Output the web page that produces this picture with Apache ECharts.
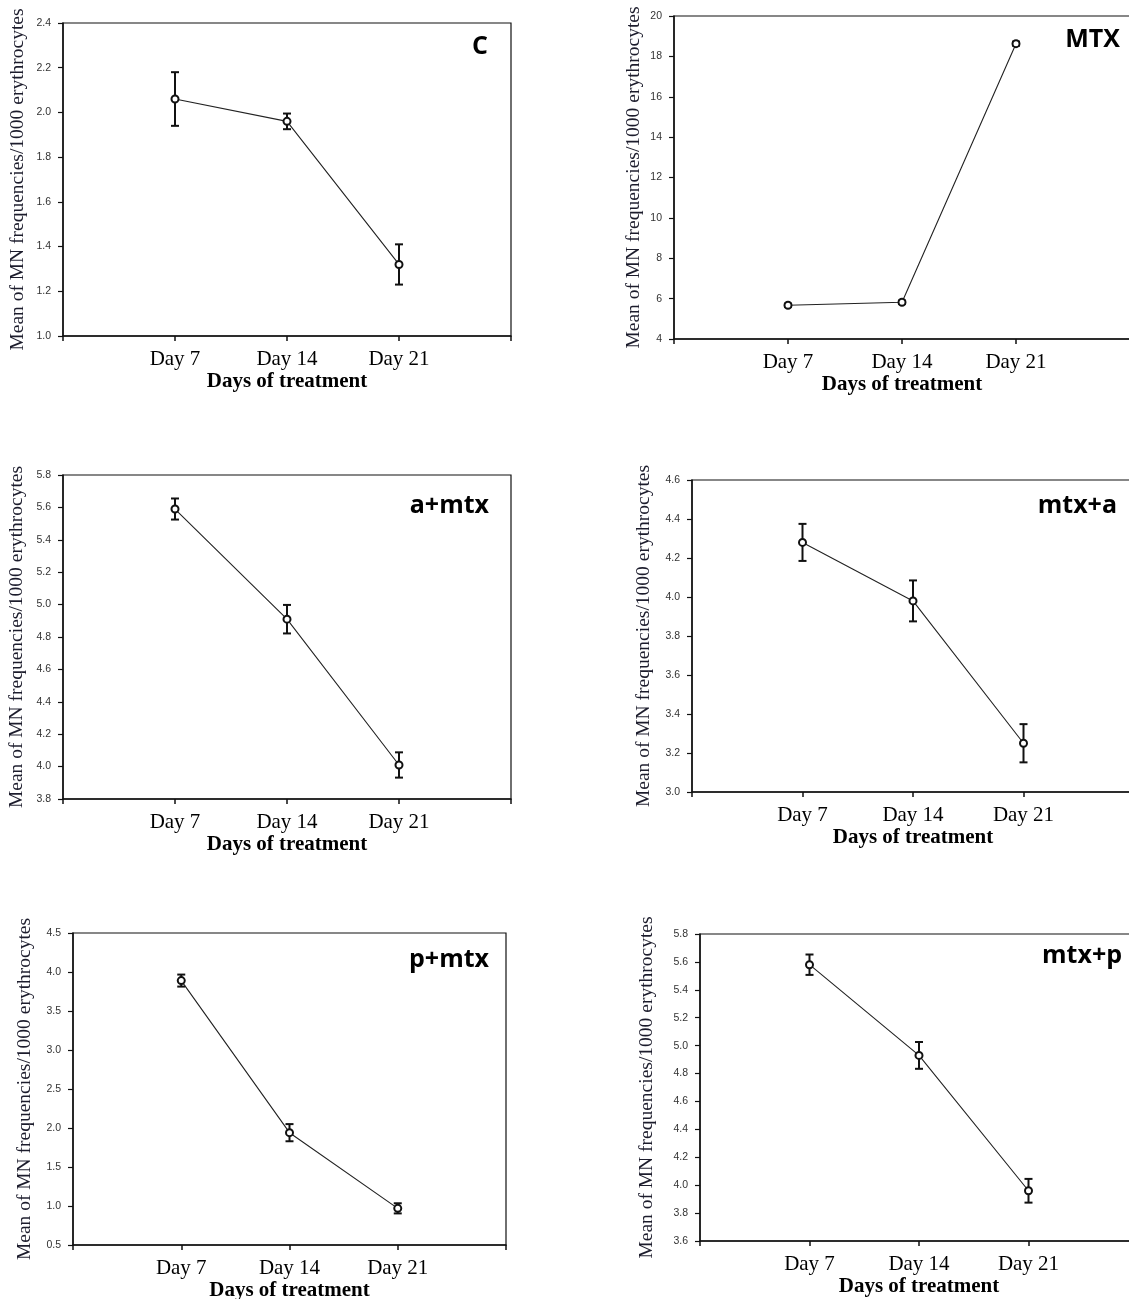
<!DOCTYPE html>
<html>
<head>
<meta charset="utf-8">
<script src="https://cdn.jsdelivr.net/npm/echarts@6/dist/echarts.min.js"></script>
<style>
html,body{margin:0;padding:0;background:#fff;overflow:hidden;}
#chart{width:1129px;height:1299px;}
</style>
</head>
<body>
<div id="chart"></div>
<script>
// ---- data ----
const categories = ['Day 7', 'Day 14', 'Day 21'];
const panelNames = ['C', 'MTX', 'a+mtx', 'mtx+a', 'p+mtx', 'mtx+p'];

const meanC = [2.06, 1.96, 1.32];
const errC = [0.12, 0.035, 0.09];
const meanMTX = [5.67, 5.82, 18.63];
const errMTX = [0.08, 0.08, 0.1];
const meanAMtx = [5.59, 4.91, 4.01];
const errAMtx = [0.065, 0.088, 0.078];
const meanMtxA = [4.28, 3.98, 3.25];
const errMtxA = [0.095, 0.105, 0.098];
const meanPMtx = [3.89, 1.94, 0.97];
const errPMtx = [0.077, 0.11, 0.065];
const meanMtxP = [5.58, 4.93, 3.96];
const errMtxP = [0.073, 0.096, 0.085];

const yMin = [1.0, 4, 3.8, 3.0, 0.5, 3.6];
const yMax = [2.4, 20, 5.8, 4.6, 4.5, 5.8];
const yStep = [0.2, 2, 0.2, 0.2, 0.5, 0.2];

const yTitle = 'Mean of MN frequencies/1000 erythrocytes';
const xTitle = 'Days of treatment';

// ---- layout ----
const means = [meanC, meanMTX, meanAMtx, meanMtxA, meanPMtx, meanMtxP];
const errs = [errC, errMTX, errAMtx, errMtxA, errPMtx, errMtxP];
const grids = [
  {left: 63, top: 23, right: 618, bottom: 963},
  {left: 674, top: 16, right: -1, bottom: 960},
  {left: 63, top: 475, right: 618, bottom: 500},
  {left: 692, top: 480, right: -5, bottom: 507},
  {left: 73, top: 933, right: 623, bottom: 54},
  {left: 700, top: 934, right: -9, bottom: 58}
];
const nameGaps = [35, 30, 36, 38, 38, 43];
const titlePos = [
  {right: 641, top: 34},
  {right: 9, top: 27},
  {right: 640, top: 493},
  {right: 12, top: 493},
  {right: 640, top: 947},
  {right: 7, top: 943}
];

const serif = '"Liberation Serif", "Times New Roman", serif';
const sans = '"Liberation Sans", Arial, sans-serif';

const option = {
  animation: false,
  backgroundColor: '#fff',
  title: [],
  grid: [],
  xAxis: [],
  yAxis: [],
  series: []
};

for (let i = 0; i < 6; i++) {
  option.grid.push(Object.assign({
    show: true, borderColor: '#111', borderWidth: 1.2, backgroundColor: 'transparent',
    containLabel: false, outerBoundsMode: 'none'
  }, grids[i]));

  option.title.push(Object.assign({
    text: panelNames[i], padding: 0,
    textStyle: {fontFamily: '"Open Sans", "Noto Sans", sans-serif', fontWeight: 'bold', fontSize: 25, color: '#000'}
  }, titlePos[i]));

  option.xAxis.push({
    type: 'value', gridIndex: i, min: 0, max: 4, interval: 1,
    name: xTitle, nameLocation: 'middle', nameGap: 35,
    nameTextStyle: {fontFamily: serif, fontWeight: 'bold', fontSize: 21, color: '#000'},
    axisLine: {show: true, onZero: false, lineStyle: {color: '#111', width: 1.5}},
    axisTick: {show: true, inside: false, length: 5, lineStyle: {color: '#111', width: 1.5}},
    axisLabel: {
      show: true, margin: 13, fontFamily: serif, fontSize: 21, color: '#000',
      showMinLabel: true, showMaxLabel: true,
      formatter: function (v) {
        const k = Math.round(v);
        return (k >= 1 && k <= categories.length) ? categories[k - 1] : '';
      }
    },
    splitLine: {show: false}
  });

  const step = yStep[i];
  option.yAxis.push({
    type: 'value', gridIndex: i, min: yMin[i], max: yMax[i], interval: step,
    name: yTitle, nameLocation: 'middle', nameRotate: 90, nameGap: nameGaps[i],
    nameTextStyle: {fontFamily: serif, fontSize: 19.5, color: '#1c1c2c'},
    axisLine: {show: true, onZero: false, lineStyle: {color: '#111', width: 1.5}},
    axisTick: {show: true, inside: false, length: 5, lineStyle: {color: '#111', width: 1.2}},
    axisLabel: {
      show: true, margin: 12, fontFamily: sans, fontSize: 10.5, color: '#333',
      showMinLabel: true, showMaxLabel: true,
      formatter: function (v) { return step < 1 ? Number(v).toFixed(1) : Number(v).toFixed(0); }
    },
    splitLine: {show: false}
  });

  const lineData = means[i].map(function (m, k) { return [k + 1, m]; });
  const errData = means[i].map(function (m, k) { return [k + 1, m, errs[i][k]]; });

  option.series.push({
    type: 'custom', xAxisIndex: i, yAxisIndex: i, z: 3,
    data: errData,
    encode: {x: 0, y: 1},
    renderItem: function (params, api) {
      const x = api.value(0), m = api.value(1), e = api.value(2);
      const top = api.coord([x, m + e]);
      const bot = api.coord([x, m - e]);
      const hw = 4;
      const st = {stroke: '#111', lineWidth: 2};
      return {
        type: 'group',
        children: [
          {type: 'line', shape: {x1: top[0], y1: top[1], x2: bot[0], y2: bot[1]}, style: st},
          {type: 'line', shape: {x1: top[0] - hw, y1: top[1], x2: top[0] + hw, y2: top[1]}, style: st},
          {type: 'line', shape: {x1: bot[0] - hw, y1: bot[1], x2: bot[0] + hw, y2: bot[1]}, style: st}
        ]
      };
    }
  });

  option.series.push({
    type: 'line', xAxisIndex: i, yAxisIndex: i, z: 4,
    data: lineData,
    symbol: 'emptyCircle', symbolSize: 7, showSymbol: true,
    lineStyle: {color: '#222', width: 1.1},
    itemStyle: {color: '#111', borderColor: '#111', borderWidth: 1.4}
  });
}

const chart = echarts.init(document.getElementById('chart'), null, {renderer: 'canvas'});
chart.setOption(option);
</script>
</body>
</html>
